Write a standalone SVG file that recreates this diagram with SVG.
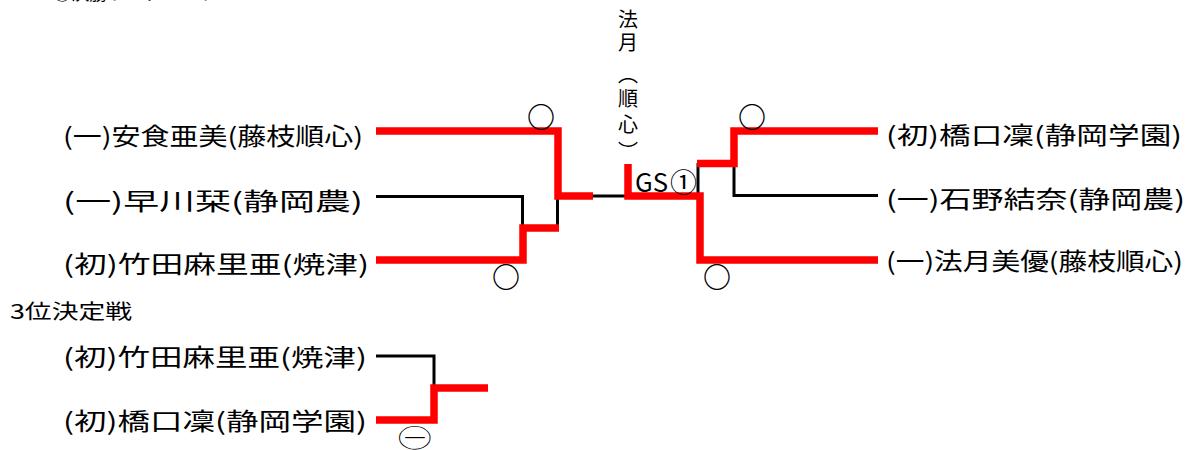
<svg xmlns="http://www.w3.org/2000/svg" width="1196" height="450" viewBox="0 0 1196 450">
<style>
.t{font-family:"Noto Sans CJK JP","Noto Sans CJK SC",sans-serif;fill:#000}
.lb{font-size:24px}
.sm{font-size:20px}
.mk{font-family:"Noto Sans CJK JP",sans-serif;font-size:28px;font-weight:700;text-anchor:middle;fill:#000}
.red{fill:none;stroke:#ff0000;stroke-width:7.5;stroke-linejoin:miter}
.blk{fill:none;stroke:#000;stroke-width:3;stroke-linejoin:miter}
</style>
<rect width="1196" height="450" fill="#fff"/>
<g id="title"><text class="t" x="53" y="0" font-size="18" textLength="164" lengthAdjust="spacingAndGlyphs">○決勝トーナメント</text></g>
<g id="connectors">
<polyline class="blk" points="376,196.5 522.5,196.5 522.5,228"/>
<polyline class="blk" points="557.5,198 557.5,228"/>
<polyline class="blk" points="593,196 628,196"/>
<polyline class="blk" points="698,196 698,163"/>
<polyline class="blk" points="734,163 734,195.5 878,195.5"/>
<polyline class="red" points="376,131 558,131 558,196 593,196"/>
<polyline class="red" points="376,260 523,260 523,228 559,228"/>
<polyline class="red" points="628,164 628,196 700,196 700,260 878,260"/>
<polyline class="red" points="697,163.5 734,163.5 734,131 878,131"/>
<polyline class="blk" points="376,356 434,356 434,386"/>
<polyline class="red" points="376,420 434,420 434,388 488,388"/>
</g>
<g id="n-ajiki"><text class="t lb" x="63" y="145" textLength="300" lengthAdjust="spacingAndGlyphs">(一)安食亜美(藤枝順心)</text></g>
<g id="n-hayakawa"><text class="t lb" x="63" y="210" textLength="300" lengthAdjust="spacingAndGlyphs">(一)早川栞(静岡農)</text></g>
<g id="n-takeda"><text class="t lb" x="63" y="273" textLength="306" lengthAdjust="spacingAndGlyphs">(初)竹田麻里亜(焼津)</text></g>
<g id="n-hashiguchi"><text class="t lb" x="886" y="144" textLength="296" lengthAdjust="spacingAndGlyphs">(初)橋口凜(静岡学園)</text></g>
<g id="n-ishino"><text class="t lb" x="886" y="208" textLength="299" lengthAdjust="spacingAndGlyphs">(一)石野結奈(静岡農)</text></g>
<g id="n-hozuki"><text class="t lb" x="886" y="270" textLength="297" lengthAdjust="spacingAndGlyphs">(一)法月美優(藤枝順心)</text></g>
<g id="winner"><text class="t sm" x="628" writing-mode="vertical-rl"><tspan y="9">法</tspan><tspan y="32">月</tspan><tspan y="64">（</tspan><tspan y="88">順</tspan><tspan y="114">心</tspan><tspan y="141">）</tspan></text></g>
<g id="gs"><text class="t" x="635" y="192" font-size="26"><tspan textLength="33" lengthAdjust="spacingAndGlyphs">GS</tspan><tspan x="670" textLength="27" lengthAdjust="spacingAndGlyphs">①</tspan></text></g>
<g id="marks">
<text class="mk" x="541" y="128">○</text>
<text class="mk" x="506" y="288">○</text>
<text class="mk" x="752" y="128">○</text>
<text class="mk" x="717" y="288">○</text>
</g>
<g id="third-title"><text class="t sm" x="10" y="319" textLength="122" lengthAdjust="spacingAndGlyphs">3位決定戦</text></g>
<g id="n3-takeda"><text class="t lb" x="63" y="366" textLength="304" lengthAdjust="spacingAndGlyphs">(初)竹田麻里亜(焼津)</text></g>
<g id="n3-hashiguchi"><text class="t lb" x="63" y="430" textLength="304" lengthAdjust="spacingAndGlyphs">(初)橋口凜(静岡学園)</text></g>
<g id="n3-mark"><text x="393" y="450" font-family="DejaVu Sans,sans-serif" font-size="39" textLength="44" lengthAdjust="spacingAndGlyphs" stroke="#fff" stroke-width="2">⊖</text></g>
</svg>
